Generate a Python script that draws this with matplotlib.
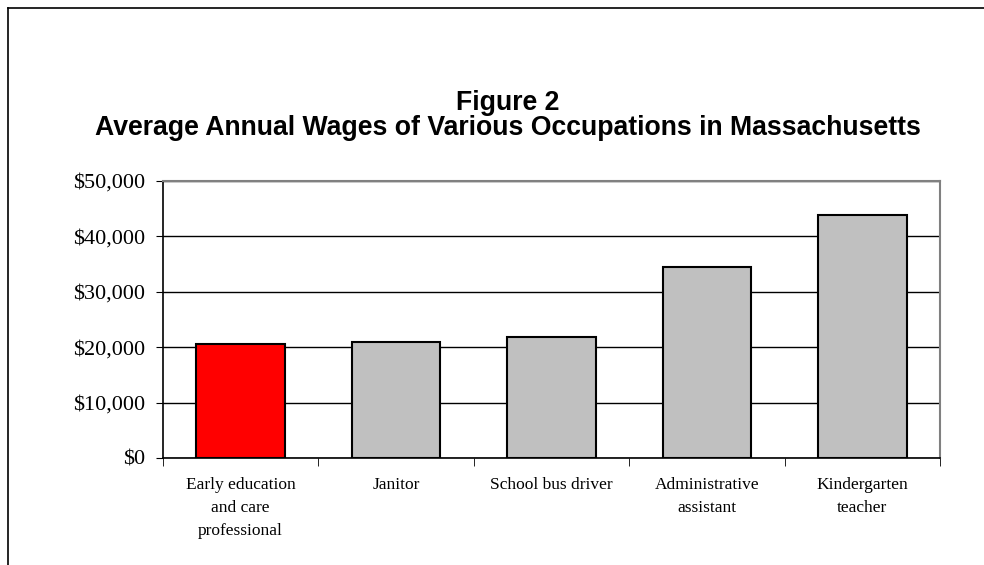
import numpy as np
import matplotlib.pyplot as plt
from matplotlib.lines import Line2D
from matplotlib.ticker import FuncFormatter, MultipleLocator

# Occupations and their average annual wages
occupations = ["Early education\nand care\nprofessional", "Janitor", "School bus driver",
               "Administrative\nassistant", "Kindergarten\nteacher"]
wages = [20600, 21000, 21800, 34500, 43800]
colors = ["#FF0000", "#C0C0C0", "#C0C0C0", "#C0C0C0", "#C0C0C0"]

fig = plt.figure(figsize=(9.84, 5.65), dpi=100)
ax = fig.add_axes([163 / 984, 1 - 458 / 565, (940 - 163) / 984, (458 - 181) / 565])

x = np.arange(len(occupations))
ax.bar(x, wages, width=0.57, color=colors, edgecolor="black", linewidth=1.5, zorder=3)

ax.set_xlim(-0.5, len(occupations) - 0.5)
ax.set_ylim(0, 50000)
ax.yaxis.set_major_locator(MultipleLocator(10000))
ax.yaxis.set_major_formatter(FuncFormatter(lambda v, p: f"${v:,.0f}"))
ax.grid(axis="y", color="black", linewidth=1, zorder=0)

ax.set_xticks(x)
ax.set_xticklabels(occupations, fontsize=12.5, family="Liberation Serif", linespacing=1.55)
ax.set_xticks(np.arange(-0.5, len(occupations)), minor=True)
ax.tick_params(axis="x", which="major", length=0, pad=14)
ax.tick_params(axis="x", which="minor", length=6, color="black")
ax.tick_params(axis="y", length=5, pad=8, labelsize=16)
for lab in ax.get_yticklabels():
    lab.set_family("Liberation Serif")

for s in ["top", "right"]:
    ax.spines[s].set_color("#808080")
    ax.spines[s].set_linewidth(1.5)
for s in ["left", "bottom"]:
    ax.spines[s].set_color("black")
    ax.spines[s].set_linewidth(1.2)

fig.text(508 / 984, 1 - 103 / 565, "Figure 2", ha="center", va="center",
         fontsize=19.2, fontweight="bold", family="Liberation Sans")
fig.text(508 / 984, 1 - 128 / 565, "Average Annual Wages of Various Occupations in Massachusetts",
         ha="center", va="center", fontsize=19.2, fontweight="bold", family="Liberation Sans")

# outer frame (only top and left edges visible)
fig.add_artist(Line2D([8 / 984, 1], [1 - 8 / 565, 1 - 8 / 565], color="black", linewidth=1.2))
fig.add_artist(Line2D([8 / 984, 8 / 984], [0, 1 - 8 / 565], color="black", linewidth=1.2))

fig.savefig("out.png", dpi=100)
